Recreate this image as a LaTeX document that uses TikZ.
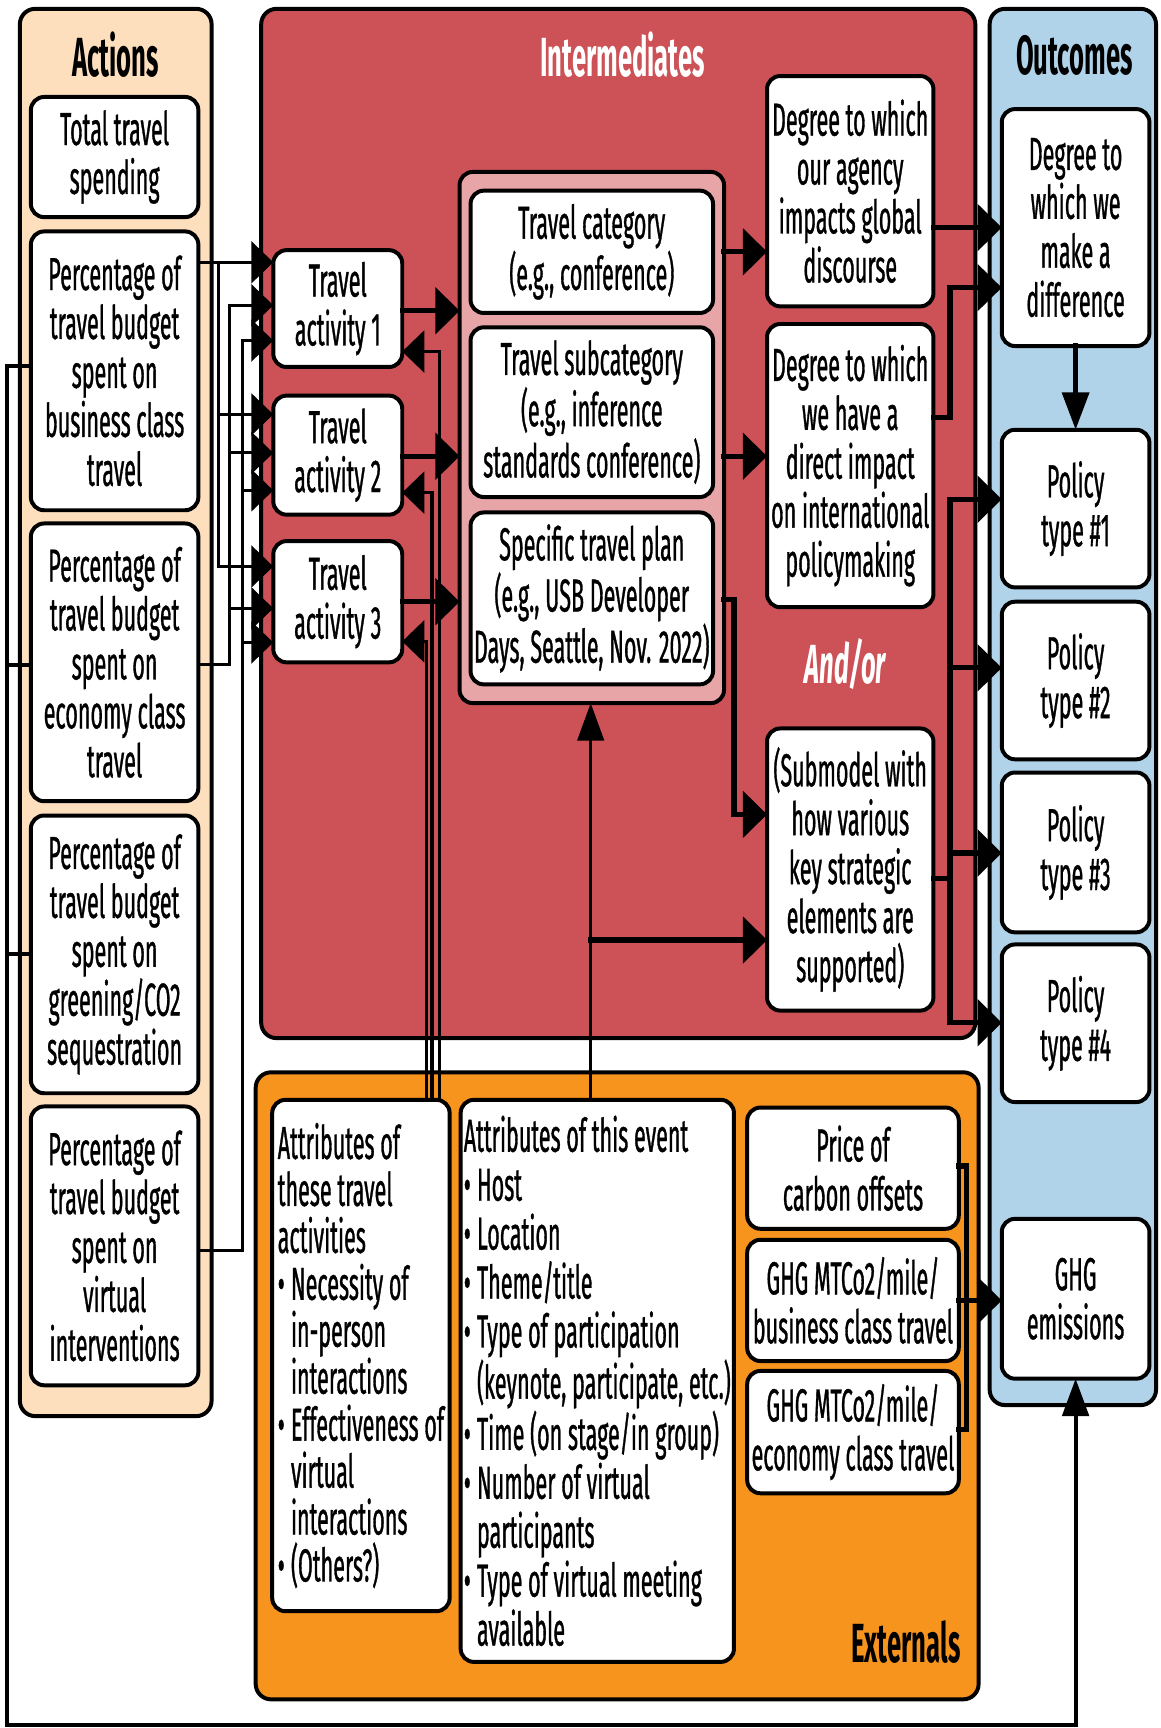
\documentclass[tikz,border=0pt]{standalone}
\usepackage{fontspec}
\setmainfont{Fira Sans}[FakeStretch=0.465, UprightFeatures={FakeBold=0.7}]
\usetikzlibrary{arrows.meta}
\definecolor{actfill}{RGB}{253,223,190}
\definecolor{intfill}{RGB}{205,82,87}
\definecolor{grpfill}{RGB}{232,165,168}
\definecolor{outfill}{RGB}{176,211,234}
\definecolor{extfill}{RGB}{247,148,30}
\newcommand\placebox[7]{\node[#1, minimum width={(#5-#3)*0.5pt}, minimum height={(#6-#4)*0.5pt}] (#2) at ({(#3+#5)/2},{(#4+#6)/2}) {#7};}
\newcommand\lstbul{\makebox[6pt][l]{\textbullet}}
\newcommand\lstind{\hspace*{6pt}}
\begin{document}
\begin{tikzpicture}[x=0.5pt, y=-0.5pt,
  panel/.style={draw=black, line width=1.8pt, rounded corners=7pt, inner sep=0pt, outer sep=0pt},
  box/.style={draw=black, fill=white, line width=1.8pt, rounded corners=6pt, inner sep=0pt, outer sep=0pt, align=center, font=\fontsize{21}{22.2}\selectfont},
  listbox/.style={box, align=left},
  ttl/.style={font=\fontsize{25}{28}\selectfont\bfseries, inner sep=0pt},
  lnA/.style={line width=1.4pt, line cap=rect, -{Triangle[length=10pt,width=19pt]}},
  lnM/.style={line width=1.8pt, line cap=rect},
  lnB/.style={line width=2.4pt, line cap=rect, -{Triangle[length=11pt,width=21pt]}},
  plain/.style={-},
  va/.style={-{Triangle[length=17pt,width=12pt]}}]
\path[use as bounding box, fill=white] (0,0) rectangle (1053,1568);

% panels
\placebox{panel, fill=actfill}{actions}{18}{8}{192}{1285}{}
\placebox{panel, fill=intfill}{inter}{237}{8}{885}{942}{}
\placebox{panel, fill=outfill}{outc}{898}{8}{1049}{1275}{}
\placebox{panel, fill=extfill}{exter}{232}{973}{888}{1542}{}
\placebox{panel, fill=grpfill, rounded corners=6pt}{grp}{417}{156}{657}{638}{}

% titles
\node[ttl] (tact) at (105,50) {Actions};
\node[ttl, text=white] (tint) at (565,50) {Intermediates};
\node[ttl] (tout) at (975,50) {Outcomes};
\node[ttl] (text) at (822,1490) {Externals};
\node[font=\fontsize{25}{27}\selectfont\bfseries\itshape, text=white, inner sep=0pt] (andor) at (767,603) {And/or};

% coordinates
\coordinate (a1) at (0,238); \coordinate (a2) at (0,277); \coordinate (a3) at (0,309);
\coordinate (b1) at (0,376); \coordinate (b2) at (0,411); \coordinate (b3) at (0,445);
\coordinate (c1) at (0,514); \coordinate (c2) at (0,552); \coordinate (c3) at (0,583);
\coordinate (xb) at (198,0); \coordinate (xe) at (208,0); \coordinate (xv) at (220,0);
\coordinate (eo) at (0,603); \coordinate (vo) at (0,1135);
\coordinate (rx1) at (399,0); \coordinate (rx2) at (392,0); \coordinate (rx3) at (387,0);
\coordinate (ra) at (0,319); \coordinate (rb) at (0,447); \coordinate (rc) at (0,582);
\coordinate (t1) at (0,282); \coordinate (t2) at (0,414); \coordinate (t3) at (0,546);
\coordinate (pl) at (0,544); \coordinate (px) at (666,0); \coordinate (sm) at (0,739);
\coordinate (ex) at (536,0); \coordinate (eb) at (0,853);
\coordinate (d1) at (0,379); \coordinate (d2) at (0,261); \coordinate (ox) at (862,0);
\coordinate (so) at (0,797);
\coordinate (q1) at (0,453); \coordinate (q2) at (0,606); \coordinate (q3) at (0,774); \coordinate (q4) at (0,928);
\coordinate (k1) at (0,1058); \coordinate (k3) at (0,1297); \coordinate (kx) at (877,0);
\coordinate (f1) at (0,332); \coordinate (f2) at (0,603); \coordinate (f3) at (0,866);
\coordinate (fx) at (6,0); \coordinate (fb) at (0,1565);

% boxes
\placebox{box}{total}{28}{88}{180}{197}{Total travel\\spending}
\placebox{box}{biz}{28}{210}{180}{463}{Percentage of\\travel budget\\spent on\\business class\\travel}
\placebox{box}{eco}{28}{475}{180}{727}{Percentage of\\travel budget\\spent on\\economy class\\travel}
\placebox{box}{grn}{28}{740}{180}{992}{Percentage of\\travel budget\\spent on\\greening/CO2\\sequestration}
\placebox{box}{vir}{28}{1004}{180}{1257}{Percentage of\\travel budget\\spent on\\virtual\\interventions}

\placebox{box}{ta1}{248}{227}{365}{333}{Travel\\activity 1}
\placebox{box}{ta2}{248}{359}{365}{467}{Travel\\activity 2}
\placebox{box}{ta3}{248}{491}{365}{601}{Travel\\activity 3}

\placebox{box}{cat}{427}{173}{647}{284}{Travel category\\(e.g., conference)}
\placebox{box}{subcat}{427}{297}{647}{451}{Travel subcategory\\(e.g., inference\\standards conference)}
\placebox{box}{plan}{427}{465}{647}{621}{Specific travel plan\\(e.g., USB Developer\\Days, Seattle, Nov. 2022)}

\placebox{box}{agency}{696}{69}{847}{278}{Degree to which\\our agency\\impacts global\\discourse}
\placebox{box}{direct}{696}{294}{847}{551}{Degree to which\\we have a\\direct impact\\on international\\policymaking}
\placebox{box}{sub}{696}{661}{847}{917}{(Submodel with\\how various\\key strategic\\elements are\\supported)}

\placebox{box}{diff}{909}{99}{1043}{314}{Degree to\\which we\\make a\\difference}
\placebox{box}{p1}{909}{390}{1043}{533}{Policy\\type \#1}
\placebox{box}{p2}{909}{546}{1043}{689}{Policy\\type \#2}
\placebox{box}{p3}{909}{701}{1043}{846}{Policy\\type \#3}
\placebox{box}{p4}{909}{857}{1043}{1000}{Policy\\type \#4}
\placebox{box}{ghg}{909}{1106}{1043}{1251}{GHG\\emissions}

\placebox{listbox, font=\fontsize{21}{21.3}\selectfont}{att}{247}{998}{408}{1462}{Attributes of\\these travel\\activities\\\lstbul Necessity of\\\lstind in-person\\\lstind interactions\\\lstbul Effectiveness of\\\lstind virtual\\\lstind interactions\\\lstbul (Others?)}
\placebox{listbox}{evt}{418}{998}{666}{1508}{Attributes of this event\\\lstbul Host\\\lstbul Location\\\lstbul Theme/title\\\lstbul Type of participation\\\lstind (keynote, participate, etc.)\\\lstbul Time (on stage/in group)\\\lstbul Number of virtual\\\lstind participants\\\lstbul Type of virtual meeting\\\lstind available}
\placebox{box}{price}{678}{1005}{870}{1115}{Price of\\carbon offsets}
\placebox{box}{ghgb}{678}{1125}{870}{1235}{GHG MTCo2/mile/\\business class travel}
\placebox{box}{ghge}{678}{1244}{870}{1355}{GHG MTCo2/mile/\\economy class travel}

% actions -> travel activities
\draw[lnA] (biz.east |- a1) -- (ta1.west |- a1);
\draw[lnA, plain] (xb |- a1) -- (xb |- c1);
\draw[lnA] (xb |- b1) -- (ta2.west |- b1);
\draw[lnA] (xb |- c1) -- (ta3.west |- c1);
\draw[lnA] (eco.east |- eo) -- (xe |- eo) -- (xe |- a2) -- (ta1.west |- a2);
\draw[lnA] (xe |- b2) -- (ta2.west |- b2);
\draw[lnA] (xe |- c2) -- (ta3.west |- c2);
\draw[lnA] (vir.east |- vo) -- (xv |- vo) -- (xv |- a3) -- (ta1.west |- a3);
\draw[lnA] (xv |- b3) -- (ta2.west |- b3);
\draw[lnA] (xv |- c3) -- (ta3.west |- c3);

% attributes of travel activities -> travel activities
\draw[lnA] (att.north -| rx1) -- (rx1 |- ra) -- (ta1.east |- ra);
\draw[lnA] (att.north -| rx2) -- (rx2 |- rb) -- (ta2.east |- rb);
\draw[lnA] (att.north -| rx3) -- (rx3 |- rc) -- (ta3.east |- rc);

% travel activities -> group
\draw[lnB] (ta1.east |- t1) -- (grp.west |- t1);
\draw[lnB] (ta2.east |- t2) -- (grp.west |- t2);
\draw[lnB] (ta3.east |- t3) -- (grp.west |- t3);

% group -> degree boxes / submodel
\draw[lnB] (grp.east |- cat.east) -- (agency.west |- cat.east);
\draw[lnB] (grp.east |- t2) -- (direct.west |- t2);
\draw[lnB] (grp.east |- pl) -- (px |- pl) -- (px |- sm) -- (sub.west |- sm);

% event -> group, submodel
\draw[lnA, va] (evt.north -| ex) -- (grp.south -| ex);
\draw[lnB] (ex |- eb) -- (sub.west |- eb);

% degree boxes -> difference
\draw[lnB] (agency.east |- diff.west) -- (diff.west);
\draw[lnB] (direct.east |- d1) -- (ox |- d1) -- (ox |- d2) -- (diff.west |- d2);
\draw[lnB, va] (diff.south) -- (p1.north);

% submodel -> policies
\draw[lnB, plain] (sub.east |- so) -- (ox |- so);
\draw[lnB] (ox |- q1) -- (ox |- q4) -- (p4.west |- q4);
\draw[lnB] (ox |- q1) -- (p1.west |- q1);
\draw[lnB] (ox |- q2) -- (p2.west |- q2);
\draw[lnB] (ox |- q3) -- (p3.west |- q3);

% externals -> GHG emissions
\draw[lnB, plain] (price.east |- k1) -- (kx |- k1) -- (kx |- k3) -- (ghge.east |- k3);
\draw[lnB] (ghgb.east) -- (ghg.west |- ghgb.east);

% feedback from actions to GHG emissions
\draw[lnM] (biz.west |- f1) -- (fx |- f1);
\draw[lnM] (eco.west |- f2) -- (fx |- f2);
\draw[lnM] (grn.west |- f3) -- (fx |- f3);
\draw[lnM, va] (fx |- f1) -- (fx |- fb) -- (ghg.south |- fb) -- (ghg.south);
\end{tikzpicture}
\end{document}
